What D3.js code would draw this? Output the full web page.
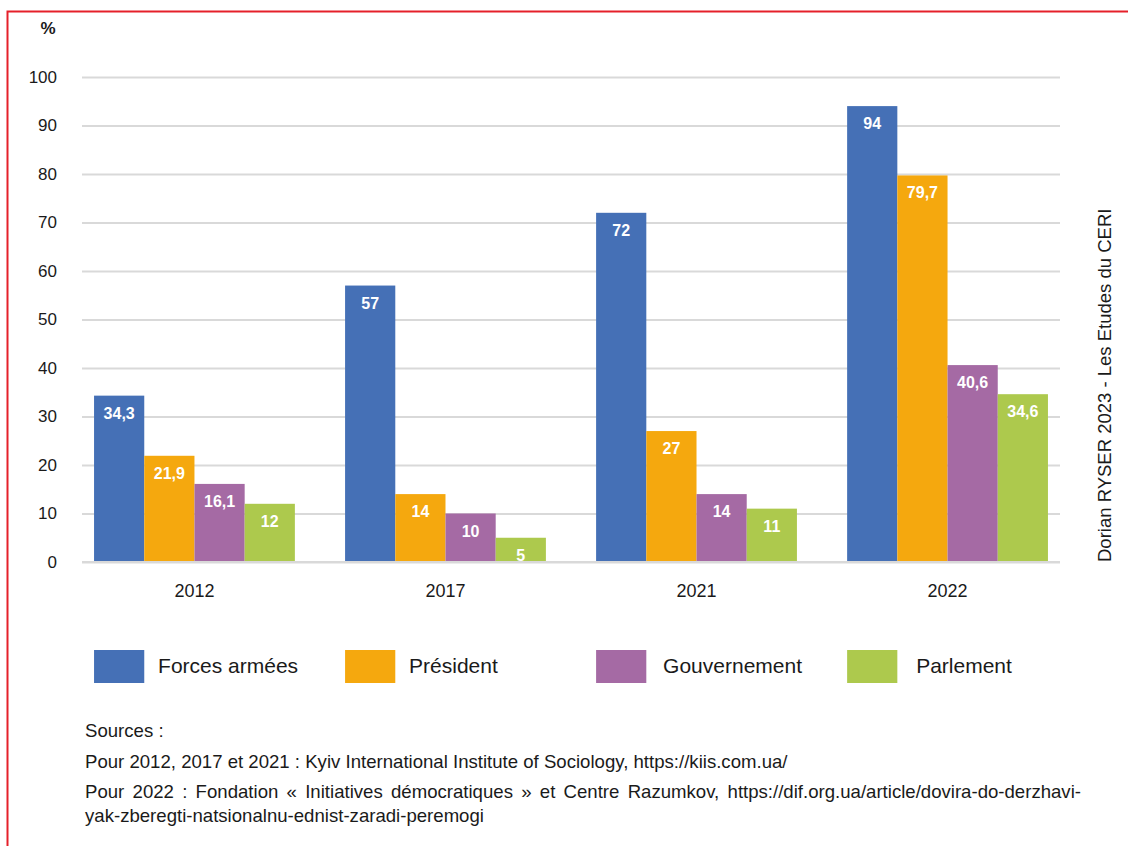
<!DOCTYPE html>
<html>
<head>
<meta charset="utf-8">
<script src="https://cdn.jsdelivr.net/npm/d3@7"></script>
<style>
  body { margin: 0; background: #fff; }
  text { font-family: "Liberation Sans", Arial, sans-serif; }
</style>
</head>
<body>
<div id="chart"></div>
<script>
// data
var years = ["2012", "2017", "2021", "2022"];
var seriesNames = ["Forces armées", "Président", "Gouvernement", "Parlement"];
var forcesArmees = [34.3, 57, 72, 94];
var president = [21.9, 14, 27, 79.7];
var gouvernement = [16.1, 10, 14, 40.6];
var parlement = [12, 5, 11, 34.6];
var yTicks = [0, 10, 20, 30, 40, 50, 60, 70, 80, 90, 100];
var colors = ["#4570b6", "#f5a80e", "#a56aa4", "#adc94d"];
var sources = [
  "Sources :",
  "Pour 2012, 2017 et 2021 : Kyiv International Institute of Sociology, https://kiis.com.ua/",
  "Pour 2022 : Fondation « Initiatives démocratiques » et Centre Razumkov, https://dif.org.ua/article/dovira-do-derzhavi-",
  "yak-zberegti-natsionalnu-ednist-zaradi-peremogi"
];

var allSeries = [forcesArmees, president, gouvernement, parlement];

var svgWidth = 1128;
var svgHeight = 846;

var svg = d3.select("#chart")
  .append("svg")
  .attr("width", svgWidth)
  .attr("height", svgHeight);

// red frame (top + left visible)
svg.append("path")
  .attr("d", "M7.5,846 L7.5,11.5 L1128,11.5")
  .attr("fill", "none")
  .attr("stroke", "#e5202a")
  .attr("stroke-width", 2);

// scales
var x0 = d3.scaleBand()
  .domain(years)
  .range([82, 1060])
  .paddingInner(0.2)
  .paddingOuter(0.048);

var x1 = d3.scaleBand()
  .domain(seriesNames)
  .range([0, x0.bandwidth()]);

var y = d3.scaleLinear()
  .domain([0, 100])
  .range([562, 77]);

// gridlines + y labels
var leftAxis = d3.axisLeft(y)
  .tickValues(yTicks)
  .tickSize(-(1060 - 82))
  .tickPadding(25);

var yAxisG = svg.append("g")
  .attr("transform", "translate(82,0)")
  .call(leftAxis);
yAxisG.select(".domain").remove();
yAxisG.selectAll(".tick line")
  .attr("stroke", "#d9d9d9")
  .attr("stroke-width", 2);
yAxisG.selectAll(".tick text")
  .attr("font-size", "17px")
  .attr("fill", "#1a1a1a")
  .style("font-family", "'Liberation Sans', Arial, sans-serif");

// "%"
svg.append("text")
  .attr("x", 48)
  .attr("y", 34)
  .attr("text-anchor", "middle")
  .attr("font-size", "17px")
  .attr("font-weight", "bold")
  .attr("fill", "#1a1a1a")
  .text("%");

// x axis labels
var bottomAxis = d3.axisBottom(x0).tickSize(0).tickPadding(22);
var xAxisG = svg.append("g")
  .attr("transform", "translate(0,562)")
  .call(bottomAxis);
xAxisG.select(".domain").remove();
xAxisG.selectAll(".tick text")
  .attr("font-size", "18px")
  .attr("fill", "#1a1a1a")
  .style("font-family", "'Liberation Sans', Arial, sans-serif");

// bars
var rows = [];
years.forEach(function(yr, i) {
  seriesNames.forEach(function(s, j) {
    rows.push({ year: yr, series: s, value: allSeries[j][i], color: colors[j] });
  });
});

var barsGroup = svg.append("g").attr("class", "bars");
barsGroup.selectAll("rect")
  .data(rows)
  .enter()
  .append("rect")
  .attr("x", d => x0(d.year) + x1(d.series))
  .attr("y", d => y(d.value))
  .attr("width", x1.bandwidth())
  .attr("height", d => y(0) - y(d.value))
  .attr("fill", d => d.color);

barsGroup.selectAll("text")
  .data(rows)
  .enter()
  .append("text")
  .attr("x", d => x0(d.year) + x1(d.series) + x1.bandwidth() / 2)
  .attr("y", d => y(d.value) + 23)
  .attr("text-anchor", "middle")
  .attr("font-size", "16px")
  .attr("font-weight", "bold")
  .attr("fill", "#fff")
  .text(d => String(d.value).replace(".", ","));

// zero line on top
svg.append("line")
  .attr("x1", 82).attr("x2", 1060)
  .attr("y1", y(0)).attr("y2", y(0))
  .attr("stroke", "#d9d9d9")
  .attr("stroke-width", 2);

// vertical credit
svg.append("text")
  .attr("transform", "translate(1111,562) rotate(-90)")
  .attr("font-size", "18.5px")
  .attr("fill", "#1a1a1a")
  .text("Dorian RYSER 2023 - Les Etudes du CERI");

// legend
var legend = svg.append("g")
  .selectAll("g")
  .data(seriesNames)
  .enter()
  .append("g")
  .attr("transform", (d, i) => `translate(${x0(years[i])}, 650)`);

legend.append("rect")
  .attr("width", x1.bandwidth())
  .attr("height", 33)
  .attr("fill", (d, i) => colors[i]);

legend.append("text")
  .attr("x", (d, i) => [64, 64, 67, 69][i])
  .attr("y", 23)
  .attr("font-size", "21px")
  .attr("fill", "#1a1a1a")
  .text(d => d);

// sources
var srcY = [737, 768, 798, 822];
var srcText = svg.append("g")
  .selectAll("text")
  .data(sources)
  .enter()
  .append("text")
  .attr("x", 85)
  .attr("y", (d, i) => srcY[i])
  .attr("font-size", "18.6px")
  .attr("fill", "#1a1a1a")
  .text(d => d);

// justify the long line
srcText.filter((d, i) => i === 2).each(function(d) {
  var len = this.getComputedTextLength();
  var gaps = d.split(" ").length - 1;
  var target = 1081 - 85;
  if (gaps > 0 && len < target) {
    d3.select(this).attr("word-spacing", ((target - len) / gaps) + "px");
  } else if (len > target) {
    d3.select(this).attr("textLength", target).attr("lengthAdjust", "spacingAndGlyphs");
  }
});
</script>
</body>
</html>
